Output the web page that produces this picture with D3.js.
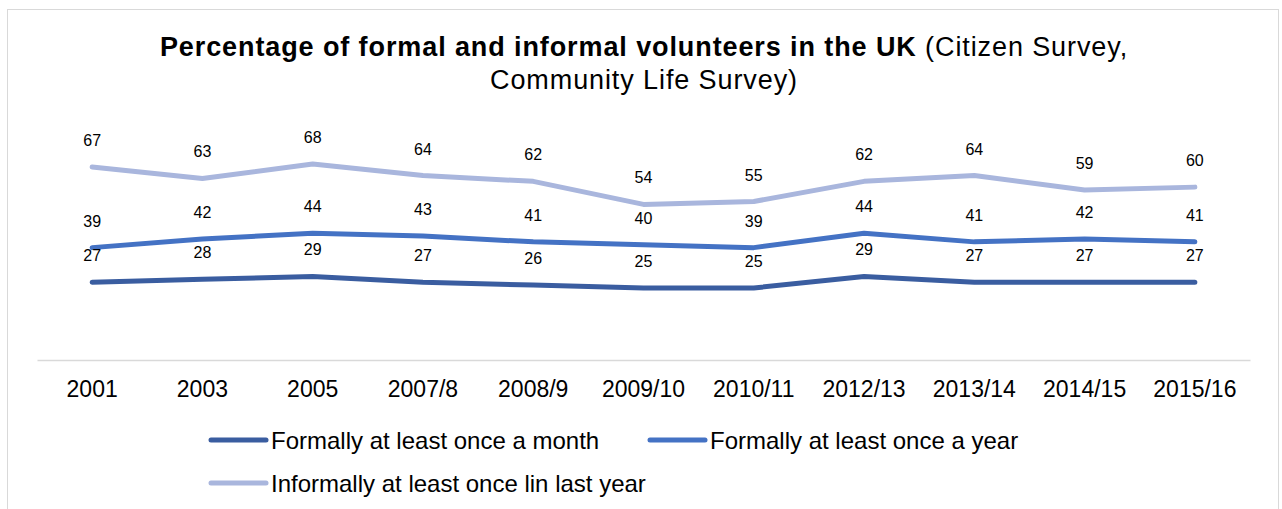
<!DOCTYPE html>
<html>
<head>
<meta charset="utf-8">
<script src="https://cdn.jsdelivr.net/npm/d3@7"></script>
<style>
  body { margin: 0; background: #fff; }
  svg { display: block; font-family: "Liberation Sans", Arial, sans-serif; }
</style>
</head>
<body>
<svg id="chart"></svg>
<script>
// data
const years = ["2001", "2003", "2005", "2007/8", "2008/9", "2009/10", "2010/11", "2012/13", "2013/14", "2014/15", "2015/16"]
const monthly = [27, 28, 29, 27, 26, 25, 25, 29, 27, 27, 27]
const yearly = [39, 42, 44, 43, 41, 40, 39, 44, 41, 42, 41]
const informal = [67, 63, 68, 64, 62, 54, 55, 62, 64, 59, 60]

const seriesNames = ["Formally at least once a month", "Formally at least once a year", "Informally at least once lin last year"]
const colors = ["#3A5DA0", "#4472C4", "#A9B6DD"]

const sizes = { width: 1282, height: 509 }
const svg = d3.select('#chart')
    .attr('width', sizes.width)
    .attr('height', sizes.height)

// outer frame
svg.append('rect')
    .attr('x', 7.5).attr('y', 9.5)
    .attr('width', 1271).attr('height', 520)
    .attr('fill', 'white')
    .attr('stroke', '#d9d9d9')

// title
const title = svg.append('text')
    .attr('x', 644)
    .attr('text-anchor', 'middle')
    .attr('font-size', '27px')
    .attr('letter-spacing', '0.9px')
    .attr('fill', '#000')
title.append('tspan').attr('x', 644).attr('y', 56)
    .attr('font-weight', 'bold')
    .text('Percentage of formal and informal volunteers in the UK')
title.append('tspan')
    .text(' (Citizen Survey,')
title.append('tspan').attr('x', 644).attr('y', 89)
    .text('Community Life Survey)')

const x = d3.scaleBand()
    .domain(years)
    .range([37, 1250])

const y = d3.scaleLinear()
    .domain([0, 80])
    .range([360, 129.5])

// x axis
const xAxis = svg.append('g')
    .attr('transform', 'translate(0,360)')
    .call(d3.axisBottom(x).tickSize(0).tickPadding(0))
xAxis.select('.domain').attr('stroke', '#d9d9d9').attr('stroke-width', 1.5)
xAxis.selectAll('text')
    .attr('font-size', '23px')
    .attr('font-family', '"Liberation Sans", Arial, sans-serif')
    .attr('fill', '#000')
    .attr('dy', null)
    .attr('y', 37)

const cx = d => x(d) + x.bandwidth() / 2
const allSeries = [monthly, yearly, informal]

const line = d3.line()
    .x((d, i) => cx(years[i]))
    .y(d => y(d))

allSeries.forEach((vals, k) => {
    svg.append('path')
        .attr('d', line(vals))
        .attr('fill', 'none')
        .attr('stroke', colors[k])
        .attr('stroke-width', 5)
        .attr('stroke-linecap', 'round')
        .attr('stroke-linejoin', 'round')
})

allSeries.forEach((vals, k) => {
    svg.append('g')
        .selectAll('text')
        .data(vals)
        .join('text')
        .attr('x', (d, i) => cx(years[i]))
        .attr('y', d => y(d) - 21)
        .attr('text-anchor', 'middle')
        .attr('font-size', '16px')
        .attr('fill', '#000')
        .text(d => d)
})

// legend
const legendPos = [[211, 440], [650, 440], [211, 483]]
seriesNames.forEach((name, k) => {
    const g = svg.append('g').attr('transform', `translate(${legendPos[k][0]},${legendPos[k][1]})`)
    g.append('line')
        .attr('x1', 0).attr('x2', 55)
        .attr('y1', 0).attr('y2', 0)
        .attr('stroke', colors[k])
        .attr('stroke-width', 5)
        .attr('stroke-linecap', 'round')
    g.append('text')
        .attr('x', 60).attr('y', 8.5)
        .attr('font-size', '24px')
        .attr('fill', '#000')
        .text(name)
})
</script>
</body>
</html>
